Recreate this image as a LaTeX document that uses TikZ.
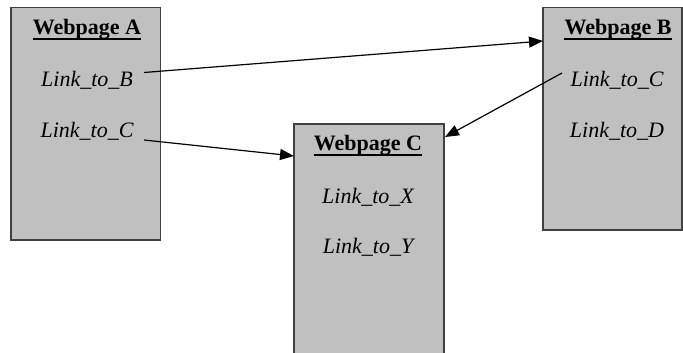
\documentclass[tikz,border=0pt]{standalone}
\usepackage{fontspec}
\setmainfont{Liberation Serif}
\usetikzlibrary{arrows.meta}
\definecolor{boxfill}{HTML}{C0C0C0}
\definecolor{boxline}{HTML}{404040}
\tikzset{
  pagebox/.style={draw=boxline, fill=boxfill, line width=1.5pt},
  title/.style={font=\fontsize{22}{26}\selectfont\bfseries, inner sep=0pt, anchor=base},
  linktxt/.style={font=\fontsize{22}{26}\selectfont\itshape, inner sep=0pt, anchor=base},
  uline/.style={line width=2pt, black},
  arr/.style={line width=1.2pt, -{Triangle[length=14pt,width=11pt]}}
}
\begin{document}
\begin{tikzpicture}[x=1pt,y=-1pt]
\useasboundingbox (0,0) rectangle (683,353);
\clip (0,0) rectangle (683,353);
% boxes
\draw[pagebox] (11,7.5) rectangle (160.5,240);
\draw[pagebox] (543,7.5) rectangle (682,230);
\draw[pagebox] (294,124) rectangle (444,370);
% texts A
\node[title] (tA) at (87,35) {Webpage A};
\draw[uline] ([yshift=-4.5pt]tA.base west) -- ([yshift=-4.5pt]tA.base east);
\node[linktxt] (lAB) at (87,86) {Link\_to\_B};
\node[linktxt] (lAC) at (87,137.5) {Link\_to\_C};
% texts B
\node[title] (tB) at (618,35) {Webpage B};
\draw[uline] ([yshift=-4.5pt]tB.base west) -- ([yshift=-4.5pt]tB.base east);
\node[linktxt] (lBC) at (617,86) {Link\_to\_C};
\node[linktxt] (lBD) at (617,137.5) {Link\_to\_D};
% texts C
\node[title] (tC) at (368,150.5) {Webpage C};
\draw[uline] ([yshift=-4.5pt]tC.base west) -- ([yshift=-4.5pt]tC.base east);
\node[linktxt] (lCX) at (368,203) {Link\_to\_X};
\node[linktxt] (lCY) at (368,253) {Link\_to\_Y};
% connector ends
\coordinate (sAB) at (144,72.5);
\coordinate (eAB) at (543,41);
\coordinate (sAC) at (144,140);
\coordinate (eAC) at (294,156);
\coordinate (sBC) at (562,73);
\coordinate (eBC) at (445,137);
\draw[arr] (sAB) -- (eAB);
\draw[arr] (sAC) -- (eAC);
\draw[arr] (sBC) -- (eBC);
\end{tikzpicture}
\end{document}
